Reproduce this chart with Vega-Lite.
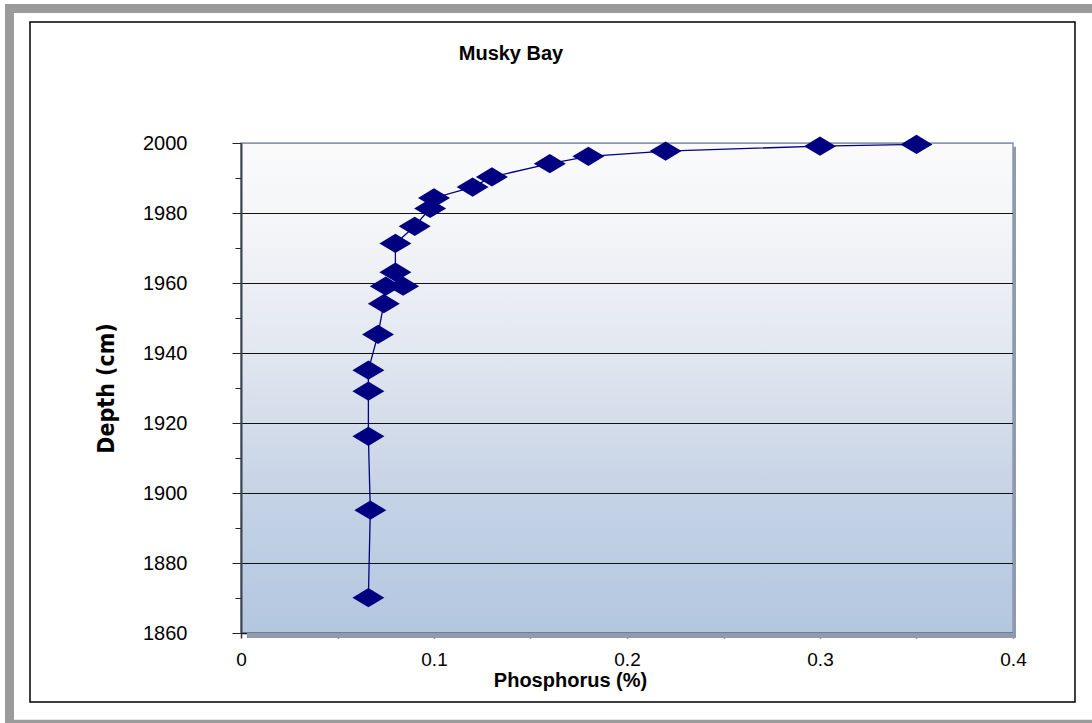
{
  "$schema": "https://vega.github.io/schema/vega-lite/v6.json",
  "width": 772,
  "height": 490,
  "autosize": {"type": "none"},
  "padding": {"left": 241, "top": 143, "right": 79, "bottom": 90},
  "background": "white",
  "title": {
    "text": "Musky Bay",
    "font": "Liberation Sans",
    "fontSize": 20,
    "fontWeight": "bold",
    "color": "black",
    "anchor": "middle",
    "frame": "group",
    "dx": -116,
    "dy": 60,
    "offset": 0
  },
  "config": {
    "font": "Liberation Sans",
    "view": {
      "stroke": "#8d99ab",
      "strokeWidth": 1.5,
      "fill": {
        "gradient": "linear",
        "x1": 0, "y1": 0, "x2": 0, "y2": 1,
        "stops": [
          {"offset": 0, "color": "#fafafb"},
          {"offset": 0.15, "color": "#f5f6f8"},
          {"offset": 0.4, "color": "#e4e9f1"},
          {"offset": 0.58, "color": "#d3dcea"},
          {"offset": 0.73, "color": "#c4d2e5"},
          {"offset": 1, "color": "#b3c7e0"}
        ]
      }
    }
  },
  "data": {
    "values": [
      {"phosphorus": 0.35, "depth": 1999.6},
      {"phosphorus": 0.30, "depth": 1999.1},
      {"phosphorus": 0.22, "depth": 1997.7},
      {"phosphorus": 0.18, "depth": 1996.2},
      {"phosphorus": 0.16, "depth": 1994.1},
      {"phosphorus": 0.13, "depth": 1990.3},
      {"phosphorus": 0.12, "depth": 1987.4},
      {"phosphorus": 0.10, "depth": 1984.3},
      {"phosphorus": 0.098, "depth": 1981.3},
      {"phosphorus": 0.09, "depth": 1976.2},
      {"phosphorus": 0.08, "depth": 1971.3},
      {"phosphorus": 0.08, "depth": 1963.1},
      {"phosphorus": 0.084, "depth": 1959.1},
      {"phosphorus": 0.075, "depth": 1959.1},
      {"phosphorus": 0.074, "depth": 1954.1},
      {"phosphorus": 0.071, "depth": 1945.3},
      {"phosphorus": 0.066, "depth": 1935.1},
      {"phosphorus": 0.066, "depth": 1929.1},
      {"phosphorus": 0.066, "depth": 1916.2},
      {"phosphorus": 0.067, "depth": 1895.1},
      {"phosphorus": 0.066, "depth": 1870.1}
    ]
  },
  "resolve": {"axis": {"x": "independent", "y": "independent"}},
  "layer": [
    {
      "data": {"values": [{}]},
      "mark": {"type": "rect", "fill": null, "stroke": "#9b9b9b", "strokeWidth": 9},
      "encoding": {
        "x": {"datum": -0.11995, "type": "quantitative", "scale": {"domain": [0, 0.4], "nice": false, "zero": false}, "axis": null},
        "x2": {"datum": 0.4451},
        "y": {"datum": 2038.4, "type": "quantitative", "scale": {"domain": [1860, 2000], "nice": false, "zero": false}, "axis": null},
        "y2": {"datum": 1833.9}
      }
    },
    {
      "data": {"values": [{}]},
      "mark": {"type": "rect", "fill": null, "stroke": "black", "strokeWidth": 1.5},
      "encoding": {
        "x": {"datum": -0.10933, "type": "quantitative", "scale": {"domain": [0, 0.4], "nice": false, "zero": false}, "axis": null},
        "x2": {"datum": 0.43212},
        "y": {"datum": 2034.57, "type": "quantitative", "scale": {"domain": [1860, 2000], "nice": false, "zero": false}, "axis": null},
        "y2": {"datum": 1840.29}
      }
    },
    {
      "data": {"values": [{}]},
      "mark": {"type": "rect", "color": "#8e9ab0"},
      "encoding": {
        "x": {"datum": 0.003, "type": "quantitative", "scale": {"domain": [0, 0.4], "nice": false, "zero": false}, "axis": null},
        "x2": {"datum": 0.4},
        "y": {"datum": 1860, "type": "quantitative", "scale": {"domain": [1860, 2000], "nice": false, "zero": false}, "axis": null},
        "y2": {"datum": 1858.57}
      }
    },
    {
      "data": {"values": [{}]},
      "mark": {"type": "rect", "color": "#8e9ab0"},
      "encoding": {
        "x": {"datum": 0.4, "type": "quantitative", "scale": {"domain": [0, 0.4], "nice": false, "zero": false}, "axis": null},
        "x2": {"datum": 0.40155},
        "y": {"datum": 1998.9, "type": "quantitative", "scale": {"domain": [1860, 2000], "nice": false, "zero": false}, "axis": null},
        "y2": {"datum": 1858.57}
      }
    },
    {
      "mark": {"type": "line", "color": "#000080", "strokeWidth": 1.3},
      "encoding": {
        "x": {
          "field": "phosphorus", "type": "quantitative",
          "scale": {"domain": [0, 0.4], "nice": false, "zero": false},
          "axis": {
            "orient": "bottom",
            "values": [0, 0.05, 0.1, 0.15, 0.2, 0.25, 0.3, 0.35, 0.4],
            "labels": false, "grid": false, "domain": false, "title": null,
            "tickSize": 5, "tickColor": "#333", "tickWidth": 1.5
          }
        },
        "y": {
          "field": "depth", "type": "quantitative",
          "scale": {"domain": [1860, 2000], "nice": false, "zero": false},
          "axis": {
            "orient": "left",
            "values": [1870, 1890, 1910, 1930, 1950, 1970, 1990],
            "labels": false, "grid": false, "domain": false, "title": null,
            "tickSize": 6, "tickColor": "#222", "tickWidth": 1
          }
        },
        "order": {"field": "depth", "sort": "descending"}
      }
    },
    {
      "mark": {
        "type": "point",
        "shape": "M-1,0L0,-0.6L1,0L0,0.6Z",
        "filled": true,
        "size": 1024,
        "color": "#000080",
        "opacity": 1
      },
      "encoding": {
        "x": {
          "field": "phosphorus", "type": "quantitative",
          "scale": {"domain": [0, 0.4], "nice": false, "zero": false},
          "axis": {
            "orient": "bottom",
            "values": [0, 0.1, 0.2, 0.3, 0.4],
            "format": "~g",
            "ticks": false, "grid": false,
            "domainColor": "#111", "domainWidth": 1.5,
            "labelFont": "Liberation Sans", "labelFontSize": 19, "labelColor": "black",
            "labelPadding": 17, "labelDx": -6, "labelFlush": false,
            "title": "Phosphorus (%)",
            "titleFont": "Liberation Sans", "titleFontSize": 20, "titleFontWeight": "bold", "titleColor": "black",
            "titleX": 329, "titleY": 47, "titleAlign": "center", "titleBaseline": "middle"
          }
        },
        "y": {
          "field": "depth", "type": "quantitative",
          "scale": {"domain": [1860, 2000], "nice": false, "zero": false},
          "axis": {
            "orient": "left",
            "values": [1860, 1880, 1900, 1920, 1940, 1960, 1980, 2000],
            "format": "d",
            "tickSize": 9, "tickColor": "#222", "tickWidth": 1,
            "domainColor": "#3a4250", "domainWidth": 2,
            "grid": true,
            "gridColor": {"condition": {"test": "datum.value == 2000", "value": "#8d99ab"}, "value": "#111"},
            "gridWidth": 1,
            "labelFont": "Liberation Sans", "labelFontSize": 20, "labelColor": "black",
            "labelPadding": 45, "labelDy": -5, "labelFlush": false,
            "title": "Depth (cm)",
            "titleFont": "DejaVu Sans Condensed, Liberation Sans", "titleFontSize": 23, "titleFontWeight": "bold", "titleColor": "black",
            "titleX": -135, "titleY": 245, "titleAngle": 270, "titleAlign": "center", "titleBaseline": "middle"
          }
        }
      }
    }
  ]
}
